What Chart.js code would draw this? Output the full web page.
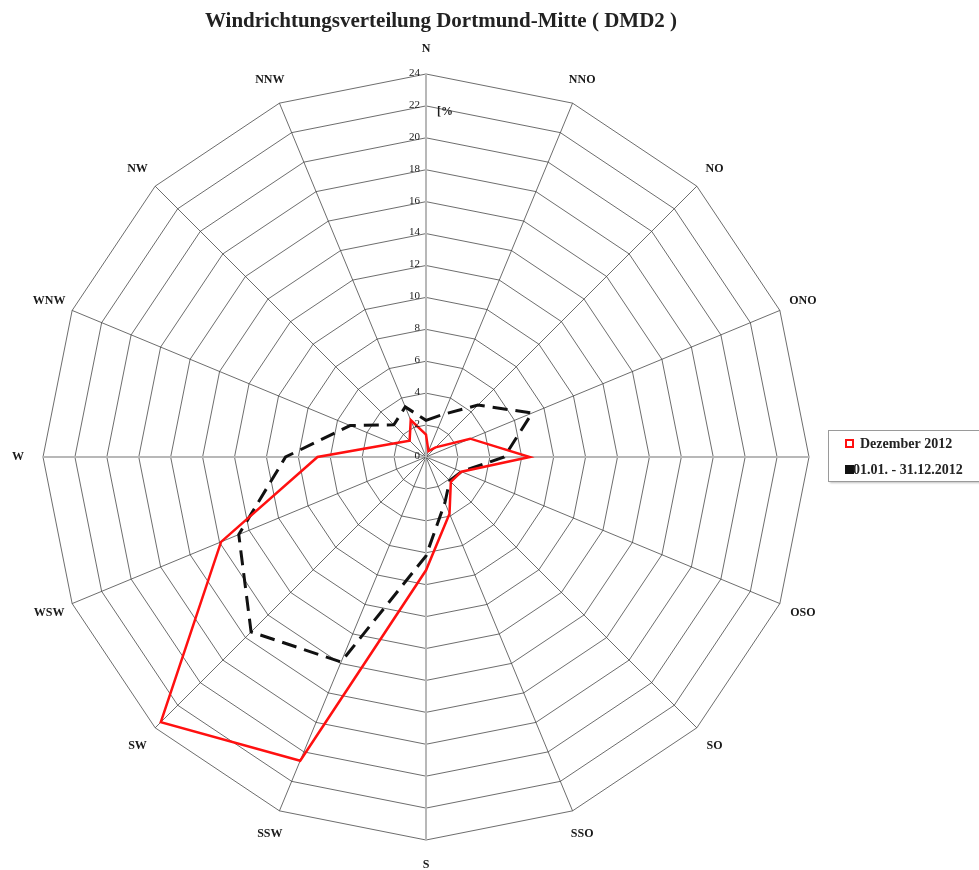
<!DOCTYPE html>
<html>
<head>
<meta charset="utf-8">
<script src="https://cdn.jsdelivr.net/npm/chart.js@4.4.1/dist/chart.umd.min.js"></script>
<style>
  html, body { margin: 0; padding: 0; background: #ffffff; }
  #wrap { position: relative; width: 979px; height: 870px; overflow: hidden; }
</style>
</head>
<body>
<div id="wrap"><canvas id="c" width="979" height="870"></canvas></div>
<script>
// ---- data ----
const titleText = 'Windrichtungsverteilung Dortmund-Mitte ( DMD2 )';
const directions = ['N', 'NNO', 'NO', 'ONO', 'O', 'OSO', 'SO', 'SSO', 'S', 'SSW', 'SW', 'WSW', 'W', 'WNW', 'NW', 'NNW'];
const dezember2012 = [1.4, 0.4, 0.85, 3.0, 6.5, 2.4, 2.2, 3.85, 7.1, 20.6, 23.5, 13.9, 6.8, 2.2, 1.45, 2.5];
const jahr2012 = [2.3, 2.9, 4.6, 7.2, 4.9, 2.4, 2.1, 3.1, 6.2, 13.9, 15.5, 12.7, 8.8, 5.15, 2.85, 3.4];
const seriesLabels = ['Dezember 2012', '01.01. - 31.12.2012'];
const axisMin = 0, axisMax = 24, axisStep = 2;
const unitLabel = '[%';

const SERIF = '"Liberation Serif", "DejaVu Serif", serif';

const decorPlugin = {
  id: 'decor',
  afterDraw(chart) {
    const ctx = chart.ctx;
    const r = chart.scales.r;
    const cx = r.xCenter, cy = r.yCenter;
    ctx.save();
    // title
    ctx.fillStyle = '#222';
    ctx.font = 'bold 21px ' + SERIF;
    ctx.textAlign = 'center';
    ctx.textBaseline = 'middle';
    ctx.fillText(titleText, 441, 22);

    // tick labels (left of the north axis)
    ctx.font = '11px ' + SERIF;
    ctx.textAlign = 'right';
    ctx.fillStyle = '#1a1a1a';
    r.ticks.forEach(t => {
      const d = r.getDistanceFromCenterForValue(t.value);
      ctx.fillText(String(t.value), cx - 6, cy - d - 1);
    });
    // unit label
    ctx.textAlign = 'left';
    ctx.font = 'bold 12px ' + SERIF;
    ctx.fillText(unitLabel, cx + 11, cy - r.getDistanceFromCenterForValue(22) + 6);

    // point labels
    ctx.font = 'bold 12px ' + SERIF;
    ctx.textAlign = 'center';
    const labelDist = r.drawingArea + 25;
    chart.data.labels.forEach((lab, i) => {
      const p = r.getPointPosition(i, labelDist);
      ctx.fillText(lab, p.x, p.y);
    });

    // legend
    const lx = 828.5, ly = 430.5, lw = 160, lh = 51;
    ctx.shadowColor = 'rgba(0,0,0,0.25)';
    ctx.shadowOffsetX = 1; ctx.shadowOffsetY = 1; ctx.shadowBlur = 2;
    ctx.fillStyle = '#ffffff';
    ctx.fillRect(lx, ly, lw, lh);
    ctx.shadowColor = 'transparent';
    ctx.strokeStyle = '#9a9a9a';
    ctx.lineWidth = 1;
    ctx.strokeRect(lx, ly, lw, lh);

    const ds = chart.data.datasets;
    const rows = [{y: 444, tx: 860, fill: '#ffffff'}, {y: 470, tx: 853, fill: '#111111'}];
    ds.forEach((d, i) => {
      const row = rows[i];
      ctx.strokeStyle = d.borderColor;
      ctx.fillStyle = row.fill;
      ctx.lineWidth = 2;
      ctx.fillRect(846, row.y - 4, 7, 7);
      ctx.strokeRect(846, row.y - 4, 7, 7);
      ctx.fillStyle = '#222';
      ctx.font = 'bold 14px ' + SERIF;
      ctx.textAlign = 'left';
      ctx.textBaseline = 'middle';
      ctx.fillText(d.label, row.tx, row.y);
    });
    ctx.restore();
  }
};

new Chart(document.getElementById('c'), {
  type: 'radar',
  data: {
    labels: directions,
    datasets: [
      {
        label: seriesLabels[0],
        data: dezember2012,
        borderColor: '#ff1010',
        backgroundColor: 'transparent',
        borderWidth: 2.5,
        fill: false,
        pointRadius: 0,
        pointHoverRadius: 0,
        tension: 0,
        borderJoinStyle: 'miter'
      },
      {
        label: seriesLabels[1],
        data: jahr2012,
        borderColor: '#111111',
        backgroundColor: 'transparent',
        borderWidth: 3,
        borderDash: [15, 8],
        fill: false,
        pointRadius: 0,
        pointHoverRadius: 0,
        tension: 0,
        borderJoinStyle: 'miter'
      }
    ]
  },
  options: {
    responsive: false,
    animation: false,
    devicePixelRatio: 1,
    layout: { padding: { left: 43, top: 74, right: 170, bottom: 30 } },
    plugins: {
      legend: { display: false },
      title: { display: false },
      tooltip: { enabled: false }
    },
    scales: {
      r: {
        min: axisMin,
        max: axisMax,
        beginAtZero: true,
        ticks: { stepSize: axisStep, display: false },
        pointLabels: { display: false },
        grid: { circular: false, color: 'rgba(60,60,60,0.75)', lineWidth: 1 },
        angleLines: {
          color: (c) => (c.index % 4 === 0 ? '#b8b8b8' : 'rgba(60,60,60,0.75)'),
          lineWidth: (c) => (c.index % 4 === 0 ? 2 : 1)
        }
      }
    }
  },
  plugins: [decorPlugin]
});
</script>
</body>
</html>
